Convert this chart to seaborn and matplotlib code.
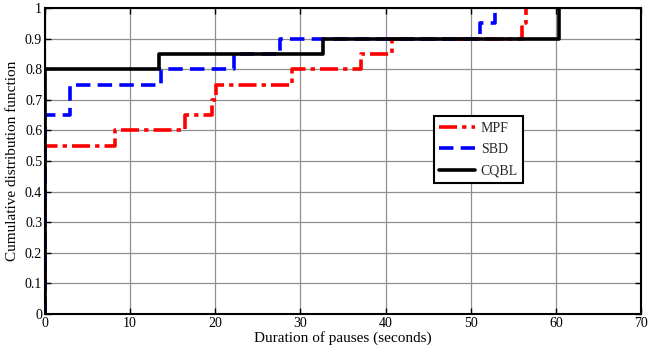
import numpy as np
import pandas as pd
import matplotlib
matplotlib.use("Agg")
import matplotlib.pyplot as plt
import seaborn as sns

# Step CDF data (x = change points, y = level from that x onwards)
mpf_x = [0, 0, 8.2, 16.5, 19.6, 20.1, 29.0, 37.1, 40.8, 56.0, 56.5]
mpf_y = [0, 0.55, 0.60, 0.65, 0.70, 0.75, 0.80, 0.85, 0.90, 0.95, 1.0]
sbd_x = [0, 0, 2.9, 13.6, 22.2, 27.6, 51.1, 52.8]
sbd_y = [0, 0.65, 0.75, 0.80, 0.85, 0.90, 0.95, 1.0]
cqbl_x = [0, 0, 13.4, 32.7, 60.4]
cqbl_y = [0, 0.80, 0.85, 0.90, 1.0]

series = ["MPF", "SBD", "CQBL"]
xticks = [0, 10, 20, 30, 40, 50, 60, 70]
yticks = [0, 0.1, 0.2, 0.3, 0.4, 0.5, 0.6, 0.7, 0.8, 0.9, 1]
ytick_labels = ["0", "0.1", "0.2", "0.3", "0.4", "0.5", "0.6", "0.7", "0.8", "0.9", "1"]

frames = []
for name, xs, ys in [("MPF", mpf_x, mpf_y), ("SBD", sbd_x, sbd_y), ("CQBL", cqbl_x, cqbl_y)]:
    frames.append(pd.DataFrame({"x": xs, "y": ys, "method": name, "order": range(len(xs))}))
df = pd.concat(frames, ignore_index=True)

sns.set_theme(style="whitegrid")
plt.rcParams["font.family"] = ["Liberation Serif", "DejaVu Serif"]

fig = plt.figure(figsize=(6.62, 3.55), dpi=100)
ax = fig.add_axes([45/662, 1-314/355, 596/662, 306/355])

palette = {"MPF": "#ff0000", "SBD": "#0000ff", "CQBL": "#000000"}
dashes = {"MPF": (5, 1.4, 1.2, 1.4), "SBD": (4, 2), "CQBL": ""}

sns.lineplot(data=df, x="x", y="y", hue="method", style="method",
             hue_order=series, style_order=series,
             palette=palette, dashes=dashes, estimator=None, sort=False,
             units="method", drawstyle="steps-post", linewidth=2.6, ax=ax, legend=True)

ax.set_xlim(0, 70)
ax.set_ylim(0, 1)
ax.set_xticks(xticks)
ax.set_xticklabels([str(t) for t in xticks])
ax.set_yticks(yticks)
ax.set_yticklabels(ytick_labels)
ax.grid(True, color="#909090", linewidth=0.9)
ax.set_facecolor("white")
for s in ax.spines.values():
    s.set_visible(True)
    s.set_color("black")
    s.set_linewidth(1.5)
ax.tick_params(axis="both", direction="in", length=4, width=1, colors="black",
               labelsize=10, pad=2, top=True, right=True, bottom=True, left=True)
ax.set_xlabel("Duration of pauses (seconds)", fontsize=11, labelpad=1, color="black")
ax.set_ylabel("Cumulative distribution function", fontsize=11, labelpad=4, color="black")

handles, labels = ax.get_legend_handles_labels()
leg = ax.legend(handles, labels, loc="upper left", bbox_to_anchor=(0.652, 0.646),
                fontsize=10, frameon=True, fancybox=False, edgecolor="black",
                framealpha=1, handlelength=2.6, borderpad=0.4, labelspacing=0.6,
                handletextpad=0.4, borderaxespad=0)
leg.get_frame().set_linewidth(1.5)
for line in leg.get_lines():
    line.set_linewidth(2.6)

fig.savefig("out.png", dpi=100)
